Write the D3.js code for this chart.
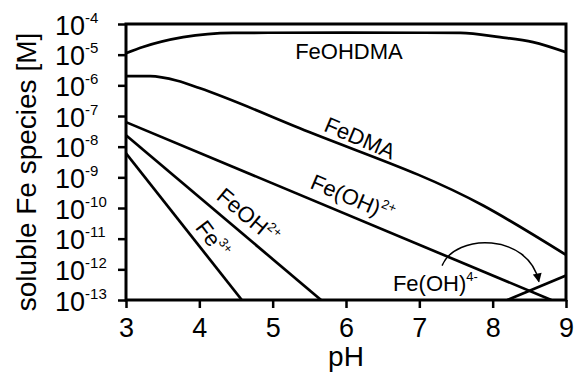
<!DOCTYPE html>
<html>
<head>
<meta charset="utf-8">
<script src="https://cdn.jsdelivr.net/npm/d3@7"></script>
<style>
    body { margin: 0; background: #fff; }
    svg { display: block; font-family: "Liberation Sans", Arial, sans-serif; }
</style>
</head>
<body>
<svg id="chart" width="576" height="376"></svg>
<script>
// values: pH against log10 of the concentration [M]
const feohdmaPH = [3, 3.23, 3.78, 4.46, 6.0, 7.56, 8.1, 8.55, 9];
const feohdmaLog = [-4.95, -4.75, -4.43, -4.29, -4.28, -4.29, -4.43, -4.59, -4.92];
const fedmaPH = [3, 3.33, 3.7, 4.0, 5.37, 7.87, 9];
const fedmaLog = [-5.7, -5.7, -5.85, -6.09, -7.4, -9.92, -11.53];
const feoh2PH = [3, 8.8];
const feoh2Log = [-7.2, -13.0];
const feohPH = [3, 5.66];
const feohLog = [-7.63, -13.0];
const fe3PH = [3, 4.58];
const fe3Log = [-8.22, -13.0];
const feoh4PH = [8.2, 9];
const feoh4Log = [-13.0, -12.2];

const xTicks = [3, 4, 5, 6, 7, 8, 9];
const yExponents = [-4, -5, -6, -7, -8, -9, -10, -11, -12, -13];

const m = {top: 24, right: 10, bottom: 76, left: 126};
const W = 576, H = 376;
const w = W - m.left - m.right;
const h = H - m.top - m.bottom;

const svg = d3.select('#chart');

const x = d3.scaleLinear().domain([3, 9]).range([m.left, m.left + w]);
const y = d3.scaleLog().domain([1e-13, 1e-4]).range([m.top + h, m.top]);

const toPoints = (ph, lg) => ph.map((p, i) => [p, Math.pow(10, lg[i])]);
const series = [
    toPoints(feohdmaPH, feohdmaLog),
    toPoints(fedmaPH, fedmaLog),
    toPoints(feoh2PH, feoh2Log),
    toPoints(feohPH, feohLog),
    toPoints(fe3PH, fe3Log),
    toPoints(feoh4PH, feoh4Log)
];

svg.append('clipPath').attr('id', 'plot-clip')
    .append('rect')
    .attr('x', m.left).attr('y', m.top)
    .attr('width', w).attr('height', h);

const line = d3.line()
    .x(d => x(d[0]))
    .y(d => y(d[1]))
    .curve(d3.curveMonotoneX);

svg.append('g')
    .attr('clip-path', 'url(#plot-clip)')
    .selectAll('path')
    .data(series)
    .enter()
    .append('path')
    .attr('d', line)
    .attr('fill', 'none')
    .attr('stroke', '#000')
    .attr('stroke-width', 2.7);

// X axis
const gx = svg.append('g')
    .attr('transform', `translate(0,${m.top + h})`)
    .call(d3.axisBottom(x).tickValues(xTicks).tickSize(8).tickPadding(10).tickFormat(d3.format('d')));
gx.select('.domain').remove();
gx.selectAll('.tick line').attr('stroke-width', 2.5);
gx.selectAll('.tick text')
    .style('font-family', '"Liberation Sans", Arial, sans-serif')
    .style('font-size', '27px')
    .attr('fill', '#000');

// Y axis, labels as 10 with a superscript exponent
const gy = svg.append('g')
    .attr('transform', `translate(${m.left},0)`)
    .call(d3.axisLeft(y).tickValues(yExponents.map(e => Math.pow(10, e))).tickSize(8).tickFormat(''));
gy.select('.domain').remove();
gy.selectAll('.tick line').attr('stroke-width', 2.5);
gy.selectAll('.tick text').remove();
gy.selectAll('.tick').each(function (d) {
    const t = d3.select(this).append('text')
        .attr('x', -71)
        .attr('y', 10)
        .attr('text-anchor', 'start')
        .attr('fill', '#000')
        .style('font-family', '"Liberation Sans", Arial, sans-serif')
        .style('font-size', '27px');
    t.append('tspan').text('10');
    t.append('tspan').attr('dy', -12).style('font-size', '15px').text(String(Math.round(Math.log10(d))));
});

// frame
svg.append('rect')
    .attr('x', m.left).attr('y', m.top)
    .attr('width', w).attr('height', h)
    .attr('fill', 'none')
    .attr('stroke', '#000')
    .attr('stroke-width', 3);

// axis titles
svg.append('text')
    .attr('x', m.left + w / 2)
    .attr('y', 366)
    .attr('text-anchor', 'middle')
    .style('font-size', '28px')
    .text('pH');

svg.append('text')
    .attr('transform', `translate(36,172) rotate(-90)`)
    .attr('text-anchor', 'middle')
    .style('font-size', '28px')
    .text('soluble Fe species [M]');

// curve labels: [text, superscript, pH, log10 conc, angle, anchor]
const labels = [
    ['FeOHDMA', '', 6.04, -5.14, 0, 'middle'],
    ['FeDMA', '', 6.15, -7.95, 23, 'middle'],
    ['Fe(OH)', '2+', 6.05, -9.9, 23, 'middle'],
    ['FeOH', '2+', 4.6, -10.45, 40, 'middle'],
    ['Fe', '3+', 4.1, -11.17, 53, 'middle'],
    ['Fe(OH)', '4-', 6.64, -12.71, 0, 'start']
];

labels.forEach(function (l) {
    const px = x(l[2]);
    const py = y(Math.pow(10, l[3]));
    const t = svg.append('text')
        .attr('transform', `translate(${px},${py}) rotate(${l[4]})`)
        .attr('text-anchor', l[5])
        .style('font-size', '22px');
    t.append('tspan').text(l[0]);
    if (l[1]) {
        t.append('tspan').attr('dy', -10).style('font-size', '13px').text(l[1]);
    }
});

// curved arrow pointing at the Fe(OH)4- line
svg.append('defs').append('marker')
    .attr('id', 'head')
    .attr('viewBox', '0 0 10 10')
    .attr('refX', 9).attr('refY', 5)
    .attr('markerWidth', 10).attr('markerHeight', 9)
    .attr('markerUnits', 'userSpaceOnUse')
    .attr('orient', 'auto')
    .append('path')
    .attr('d', 'M0,0L10,5L0,10Z')
    .attr('fill', '#000');

const arrowStart = [7.31, -11.88];
const arrowC1 = [7.49, -10.81];
const arrowC2 = [8.49, -10.81];
const arrowEnd = [8.63, -12.4];
const pt = a => [x(a[0]), y(Math.pow(10, a[1]))];
const p = d3.path();
p.moveTo(...pt(arrowStart));
p.bezierCurveTo(...pt(arrowC1), ...pt(arrowC2), ...pt(arrowEnd));
svg.append('path')
    .attr('d', p.toString())
    .attr('fill', 'none')
    .attr('stroke', '#000')
    .attr('stroke-width', 1.5)
    .attr('marker-end', 'url(#head)');
</script>
</body>
</html>
